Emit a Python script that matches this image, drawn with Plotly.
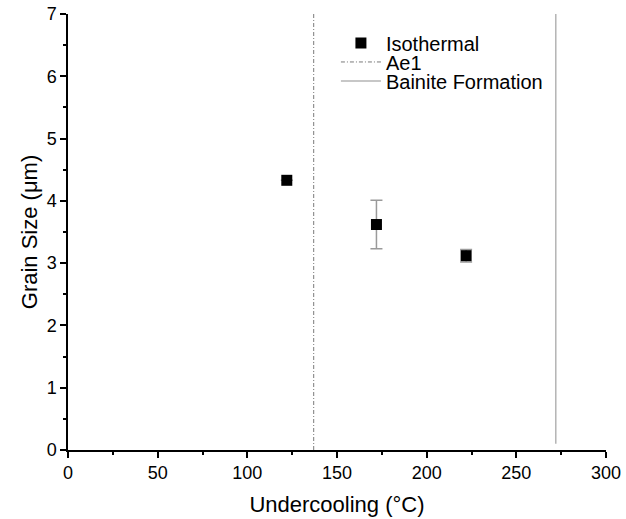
import plotly.graph_objects as go

# Data
undercooling = [122, 172, 222]
grain_size = [4.33, 3.62, 3.12]
grain_err = [0.0, 0.39, 0.10]
ae1_x = [137, 137]
ae1_y = [0, 7]
bainite_x = [272, 272]
bainite_y = [0.1, 7]

FONT = "Liberation Sans, Arial, sans-serif"

fig = go.Figure()
fig.add_trace(go.Scatter(
    x=undercooling, y=grain_size, mode="markers", name="Isothermal",
    marker=dict(symbol="square", size=11, color="black"),
    error_y=dict(type="data", array=grain_err, visible=True, color="#9a9a9a",
                 thickness=1.5, width=6),
    legend="legend",
))
fig.add_trace(go.Scatter(
    x=ae1_x, y=ae1_y, mode="lines", name="Ae1",
    line=dict(color="#7a7a7a", width=1, dash="4px,2px,1px,2px"),
    legend="legend2",
))
fig.add_trace(go.Scatter(
    x=bainite_x, y=bainite_y, mode="lines", name="Bainite Formation",
    line=dict(color="#b4b4b4", width=1.5),
    legend="legend3",
))

axis_common = dict(
    showline=True, linecolor="black", linewidth=1.5, mirror=False,
    ticks="outside", ticklen=6, tickwidth=1.5, tickcolor="black",
    showgrid=False, zeroline=False, automargin=False,
    ticklabeloverflow="allow",
    tickfont=dict(family=FONT, size=18, color="black"),
)

leg_common = dict(x=0.498, xanchor="left", yanchor="middle",
                  bgcolor="rgba(0,0,0,0)", font=dict(family=FONT, size=20),
                  itemwidth=40)

fig.update_layout(
    width=626, height=519,
    margin=dict(l=68, r=20, t=14, b=69),
    paper_bgcolor="white", plot_bgcolor="white",
    font=dict(family=FONT, size=18, color="black"),
    showlegend=True,
    legend=dict(y=0.9335, **leg_common),
    legend2=dict(y=0.890, **leg_common),
    legend3=dict(y=0.8463, **leg_common),
    xaxis=dict(range=[0, 300], tickvals=[0, 50, 100, 150, 200, 250, 300],
               minor=dict(ticks="outside", ticklen=3, tickwidth=1.5,
                          tickcolor="black", dtick=25),
               title=dict(text="Undercooling (°C)", font=dict(family=FONT, size=22), standoff=14),
               **axis_common),
    yaxis=dict(range=[0, 7], dtick=1,
               minor=dict(ticks="outside", ticklen=3, tickwidth=1.5,
                          tickcolor="black", dtick=0.5),
               title=dict(text="Grain Size (μm)", font=dict(family=FONT, size=22), standoff=3),
               **axis_common),
)

fig.write_html(
    "out.html",
    config={"displayModeBar": False},
    post_script="document.body.style.margin='0';document.body.style.overflow='hidden';",
)
